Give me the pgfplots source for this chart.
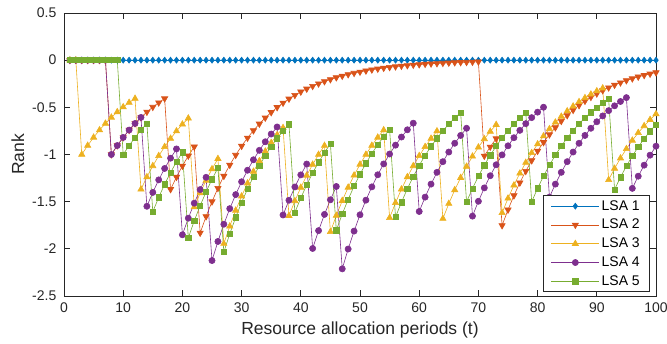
\documentclass[border=0pt]{standalone}
\usepackage{pgfplots}
\pgfplotsset{compat=1.18}
\usepackage{pgfplotstable}
\usepackage{fontspec}
\setmainfont{Liberation Sans}
\definecolor{c1}{rgb}{0,0.447,0.741}
\definecolor{c2}{rgb}{0.85,0.325,0.098}
\definecolor{c3}{rgb}{0.929,0.694,0.125}
\definecolor{c4}{rgb}{0.494,0.184,0.556}
\definecolor{c5}{rgb}{0.466,0.674,0.188}
\definecolor{axc}{rgb}{0.15,0.15,0.15}
\pgfplotstableread{
t s1 s2 s3 s4 s5
1 0 0 0 0 0
2 0 0 0 0 0
3 0 0 -1 0 0
4 0 0 -0.905 0 0
5 0 0 -0.819 0 0
6 0 0 -0.741 0 0
7 0 0 -0.671 0 0
8 0 -1 -0.607 -1 0
9 0 -0.905 -0.549 -0.905 0
10 0 -0.819 -0.497 -0.819 -1
11 0 -0.741 -0.450 -0.741 -0.905
12 0 -0.671 -0.407 -0.671 -0.819
13 0 -0.607 -1.369 -0.607 -0.741
14 0 -0.549 -1.239 -1.549 -0.671
15 0 -0.497 -1.121 -1.402 -1.607
16 0 -0.450 -1.014 -1.269 -1.454
17 0 -0.407 -0.918 -1.148 -1.316
18 0 -1.369 -0.831 -1.039 -1.191
19 0 -1.239 -0.752 -0.941 -1.078
20 0 -1.121 -0.680 -1.851 -0.976
21 0 -1.014 -0.616 -1.675 -1.883
22 0 -0.918 -1.557 -1.516 -1.704
23 0 -1.831 -1.409 -1.372 -1.542
24 0 -1.657 -1.275 -1.242 -1.396
25 0 -1.499 -1.154 -2.124 -1.263
26 0 -1.357 -1.045 -1.922 -1.143
27 0 -1.228 -1.945 -1.739 -2.034
28 0 -1.111 -1.761 -1.574 -1.841
29 0 -1.006 -1.593 -1.425 -1.666
30 0 -0.910 -1.442 -1.289 -1.508
31 0 -0.824 -1.305 -1.167 -1.365
32 0 -0.746 -1.181 -1.056 -1.235
33 0 -0.675 -1.069 -0.956 -1.118
34 0 -0.611 -0.967 -0.865 -1.012
35 0 -0.553 -0.875 -0.783 -0.915
36 0 -0.500 -0.792 -0.708 -0.829
37 0 -0.453 -0.717 -1.641 -0.750
38 0 -0.410 -1.649 -1.485 -0.679
39 0 -0.371 -1.492 -1.344 -1.614
40 0 -0.335 -1.350 -1.216 -1.461
41 0 -0.304 -1.222 -1.101 -1.322
42 0 -0.275 -1.106 -1.996 -1.196
43 0 -0.249 -1.001 -1.807 -1.083
44 0 -0.225 -0.906 -1.635 -0.980
45 0 -0.204 -1.820 -1.480 -0.887
46 0 -0.184 -1.647 -1.339 -1.803
47 0 -0.167 -1.490 -2.212 -1.631
48 0 -0.151 -1.349 -2.002 -1.476
49 0 -0.137 -1.221 -1.812 -1.336
50 0 -0.124 -1.105 -1.639 -1.209
51 0 -0.112 -1.000 -1.484 -1.094
52 0 -0.101 -0.905 -1.343 -0.990
53 0 -0.092 -0.819 -1.215 -0.896
54 0 -0.083 -0.741 -1.100 -0.811
55 0 -0.075 -1.671 -0.995 -0.734
56 0 -0.068 -1.512 -0.901 -1.664
57 0 -0.061 -1.368 -0.815 -1.506
58 0 -0.056 -1.238 -0.738 -1.363
59 0 -0.050 -1.121 -0.668 -1.234
60 0 -0.046 -1.014 -1.604 -1.116
61 0 -0.041 -0.918 -1.452 -1.010
62 0 -0.037 -0.831 -1.314 -0.914
63 0 -0.034 -0.752 -1.189 -0.828
64 0 -0.031 -1.680 -1.076 -0.749
65 0 -0.028 -1.521 -0.974 -0.678
66 0 -0.025 -1.376 -0.881 -0.613
67 0 -0.023 -1.246 -0.798 -0.555
68 0 -0.021 -1.127 -0.722 -1.502
69 0 -0.019 -1.020 -1.653 -1.360
70 0 -0.017 -0.923 -1.496 -1.230
71 0 -1.015 -0.835 -1.354 -1.114
72 0 -0.919 -0.756 -1.225 -1.008
73 0 -0.831 -0.684 -1.109 -0.912
74 0 -1.752 -1.619 -1.004 -0.825
75 0 -1.586 -1.465 -0.908 -0.747
76 0 -1.435 -1.326 -0.822 -0.676
77 0 -1.299 -1.200 -0.744 -0.612
78 0 -1.176 -1.086 -0.673 -0.554
79 0 -1.064 -0.983 -0.609 -1.501
80 0 -0.963 -0.890 -0.551 -1.358
81 0 -0.871 -0.805 -0.499 -1.229
82 0 -0.789 -0.729 -1.452 -1.113
83 0 -0.714 -0.659 -1.314 -1.007
84 0 -0.646 -0.597 -1.189 -0.911
85 0 -0.585 -0.540 -1.076 -0.825
86 0 -0.529 -0.489 -0.974 -0.746
87 0 -0.479 -0.442 -0.881 -0.675
88 0 -0.433 -0.400 -0.798 -0.611
89 0 -0.392 -0.362 -0.722 -0.553
90 0 -0.355 -0.328 -0.653 -0.501
91 0 -0.321 -0.297 -0.591 -0.453
92 0 -0.291 -1.269 -0.535 -0.410
93 0 -0.263 -1.148 -0.484 -1.371
94 0 -0.238 -1.039 -0.438 -1.241
95 0 -0.215 -0.940 -0.397 -1.123
96 0 -0.195 -0.851 -1.359 -1.016
97 0 -0.176 -0.770 -1.230 -0.920
98 0 -0.160 -0.697 -1.113 -0.832
99 0 -0.145 -0.631 -1.007 -0.753
100 0 -0.131 -0.571 -0.912 -0.682
}\data
\begin{document}
\fontsize{13.5}{16}\selectfont
\begin{tikzpicture}
\begin{axis}[
  width=592pt, height=283pt, scale only axis,
  xmin=0, xmax=100, ymin=-2.5, ymax=0.5,
  xtick={0,10,20,30,40,50,60,70,80,90,100},
  ytick={-2.5,-2,-1.5,-1,-0.5,0,0.5},
  tick align=inside, major tick length=6pt,
  axis line style={line width=0.7pt, color=axc},
  every tick/.style={line width=0.7pt, color=axc},
  /pgf/number format/assume math mode=true,
  tick label style={font=\fontsize{14}{16}\selectfont, color=axc},
  xticklabel style={yshift=-2pt},
  yticklabel style={xshift=-3pt},
  xlabel={Resource allocation periods (t)},
  ylabel={Rank},
  label style={font=\fontsize{17.5}{20}\selectfont, color=axc},
  xlabel style={at={(axis description cs:0.5,-0.12)}, anchor=center},
  ylabel style={at={(axis description cs:-0.078,0.5)}, anchor=center},
  legend style={at={(rel axis cs:0.99,0.014)}, anchor=south east,
    draw=axc, line width=0.6pt, fill=white,
    font=\fontsize{14}{16}\selectfont, row sep=3pt,
    inner xsep=8pt, inner ysep=2.5pt, cells={anchor=west}},
  legend image code/.code={\draw[mark repeat=2,mark phase=2] plot coordinates {(0pt,0pt)(24pt,0pt)(48pt,0pt)};},
  every axis plot/.append style={line width=0.6pt},
]
\addplot[color=c1, mark=diamond*, mark size=3pt, mark options={fill=c1, draw=c1}] table[x=t, y=s1] {\data};
\addlegendentry{LSA 1}
\addplot[color=c2, mark=triangle*, mark size=3.6pt, mark options={rotate=180, fill=c2, draw=c2}] table[x=t, y=s2] {\data};
\addlegendentry{LSA 2}
\addplot[color=c3, mark=triangle*, mark size=3.6pt, mark options={fill=c3, draw=c3}] table[x=t, y=s3] {\data};
\addlegendentry{LSA 3}
\addplot[color=c4, mark=*, mark size=3.1pt, mark options={fill=c4, draw=c4}] table[x=t, y=s4] {\data};
\addlegendentry{LSA 4}
\addplot[color=c5, mark=square*, mark size=2.6pt, mark options={fill=c5, draw=c5}] table[x=t, y=s5] {\data};
\addlegendentry{LSA 5}
\end{axis}
\pgfresetboundingbox
\path ([xshift=-64pt,yshift=-47pt]current axis.south west) rectangle ([xshift=11pt,yshift=13pt]current axis.north east);
\end{tikzpicture}
\end{document}
